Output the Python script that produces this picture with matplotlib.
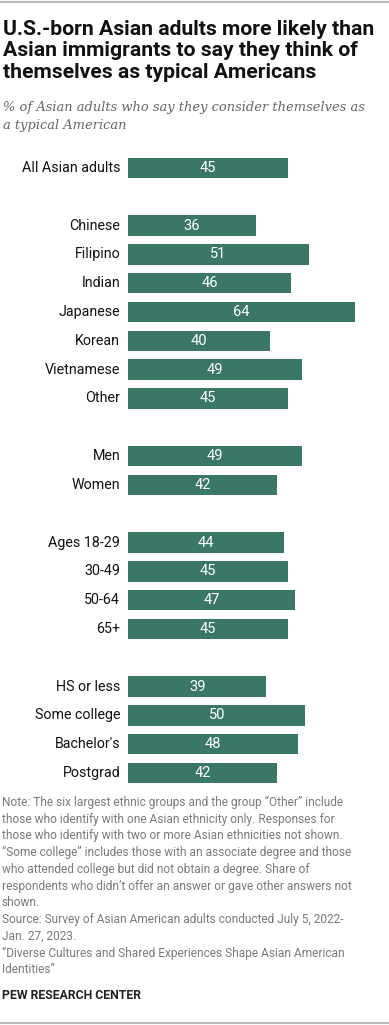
import numpy as np
import matplotlib.pyplot as plt
from matplotlib.lines import Line2D

labels = ["All Asian adults", "Chinese", "Filipino", "Indian", "Japanese", "Korean",
          "Vietnamese", "Other", "Men", "Women", "Ages 18-29", "30-49", "50-64", "65+",
          "HS or less", "Some college", "Bachelor's", "Postgrad"]
values = [45, 36, 51, 46, 64, 40, 49, 45, 49, 42, 44, 45, 47, 45, 39, 50, 48, 42]
# row slot of each bar (gaps between groups)
slots = [0, 2, 3, 4, 5, 6, 7, 8, 10, 11, 13, 14, 15, 16, 18, 19, 20, 21]

title = ("U.S.-born Asian adults more likely than\n"
         "Asian immigrants to say they think of\n"
         "themselves as typical Americans")
subtitle = "% of Asian adults who say they consider themselves as\na typical American"
note = ("Note: The six largest ethnic groups and the group \u201cOther\u201d include\n"
        "those who identify with one Asian ethnicity only. Responses for\n"
        "those who identify with two or more Asian ethnicities not shown.\n"
        "\u201cSome college\u201d includes those with an associate degree and those\n"
        "who attended college but did not obtain a degree. Share of\n"
        "respondents who didn\u2019t offer an answer or gave other answers not\n"
        "shown.\n"
        "Source: Survey of Asian American adults conducted July 5, 2022-\n"
        "Jan. 27, 2023.\n"
        "\u201cDiverse Cultures and Shared Experiences Shape Asian American\n"
        "Identities\u201d")

W, H = 389, 1025
fig = plt.figure(figsize=(W / 100, H / 100), dpi=100)

def px(x, y):
    return x / W, 1 - y / H

green = "#3a7766"
top, bot = 153.6, 787.4
ax = fig.add_axes([128 / W, 1 - bot / H, (W - 128) / W, (bot - top) / H])
ax.barh(slots, values, height=0.71, color=green)
ax.set_xlim(0, (W - 128) / 3.55)
ax.set_ylim(21.5, -0.5)
ax.axis("off")
for s, v, lab in zip(slots, values, labels):
    ax.text(v / 2, s, str(v), color="white", ha="center", va="center",
            fontsize=10.5, family="Roboto")
    ax.text(-2.2, s, lab, color="#111111", ha="right", va="center",
            fontsize=10.3, family="Roboto")

fig.text(*px(3, 20), title, fontsize=15.2, fontweight="bold", family="Roboto",
         va="top", ha="left", linespacing=1.15, color="#111111")
fig.text(*px(3, 101), subtitle, fontsize=9.4, style="italic", family="DejaVu Serif",
         va="top", ha="left", linespacing=1.5, color="#666666")
fig.text(*px(2, 796), note, fontsize=8.6, family="Roboto", va="top", ha="left",
         linespacing=1.37, color="#7a7a7a")
fig.text(*px(2, 989), "PEW RESEARCH CENTER", fontsize=8.8, fontweight="bold",
         family="Roboto", va="top", ha="left", color="#222222")

fig.add_artist(Line2D([0, 1], [1 - 2 / H, 1 - 2 / H], color="#bbbbbb", lw=1.5))
fig.add_artist(Line2D([0, 1], [2 / H, 2 / H], color="#bbbbbb", lw=1.5))

fig.savefig("out.png", dpi=100)
